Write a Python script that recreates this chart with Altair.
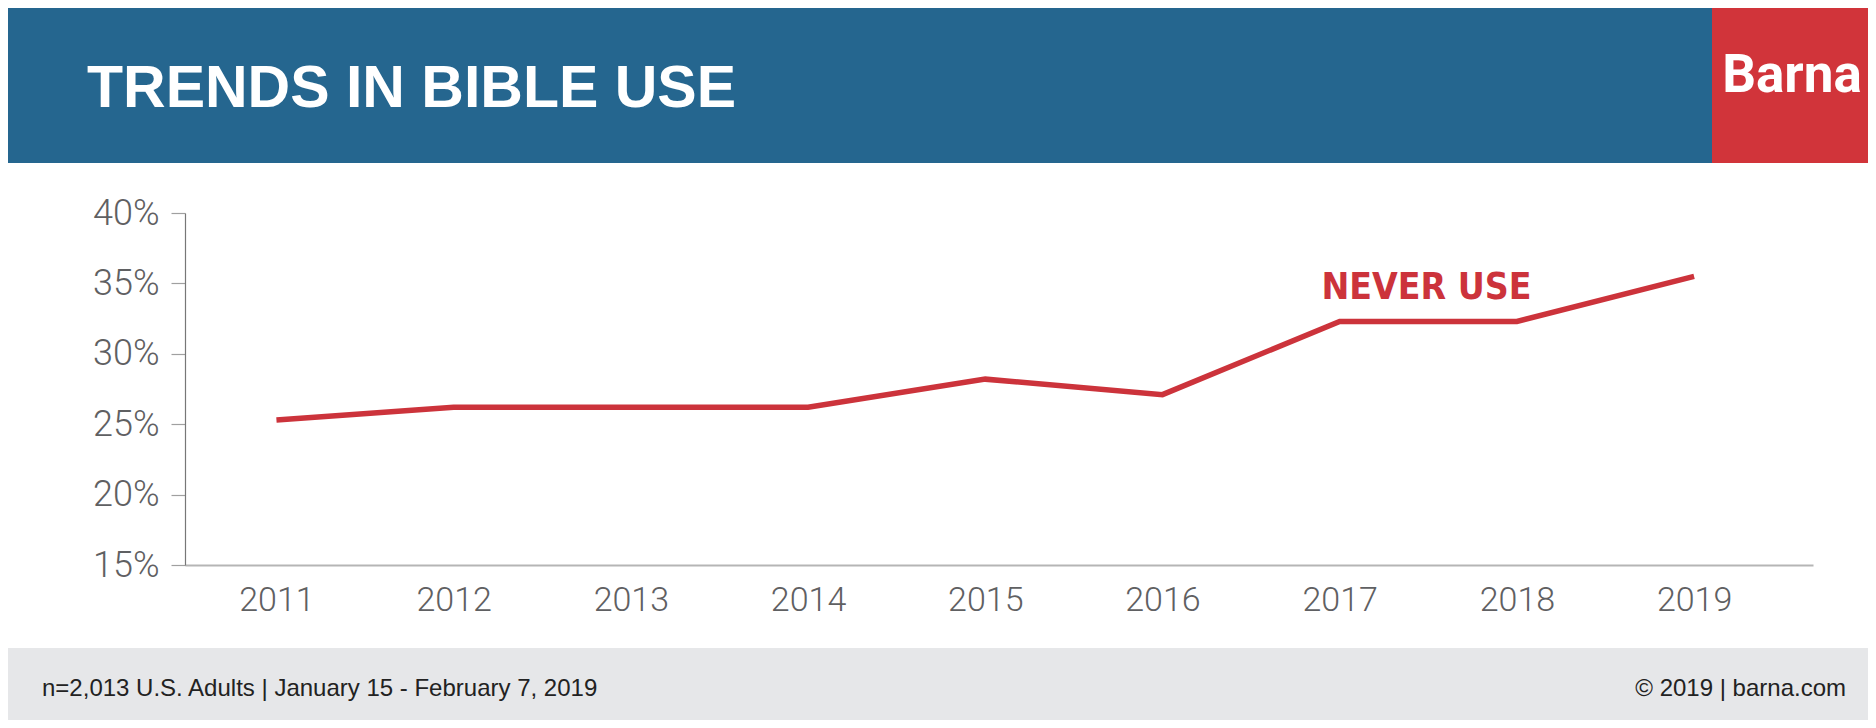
import altair as alt
import pandas as pd

years = [2011, 2012, 2013, 2014, 2015, 2016, 2017, 2018, 2019]
never_use = [25.3, 26.2, 26.2, 26.2, 28.2, 27.1, 32.3, 32.3, 35.5]
y_ticks = [15, 20, 25, 30, 35, 40]

title_text = "TRENDS IN BIBLE USE"
brand_text = "Barna"
series_label = "NEVER USE"
footer_left = "n=2,013 U.S. Adults | January 15 - February 7, 2019"
footer_right = "\u00a9 2019 | barna.com"

BLUE = "#25668f"
RED = "#d1343a"
LINE_RED = "#cc333b"
GRAY_BG = "#e6e7e9"
LABEL_GRAY = "#5f6062"

df = pd.DataFrame({"year": years, "value": never_use})

W, H = 1628, 352
PAD = {"left": 177, "top": 205, "right": 55, "bottom": 155}

base = alt.Chart(df)

x_enc = alt.X(
    "year:Q",
    scale=alt.Scale(domain=[2010.484, 2019.671], nice=False, zero=False),
    axis=alt.Axis(
        values=years, format="d", tickSize=0, labelPadding=18,
        labelFontSize=34, labelFont="Roboto", labelFontWeight=300,
        labelColor=LABEL_GRAY, domainColor="#b5b5b5", domainWidth=2,
        grid=False, title=None,
    ),
)
y_enc = alt.Y(
    "value:Q",
    scale=alt.Scale(domain=[15, 40], nice=False, zero=False),
    axis=alt.Axis(
        values=y_ticks, labelExpr="datum.value + '%'", tickSize=14,
        tickColor="#a0a0a0", tickWidth=1.2, labelPadding=12,
        labelFontSize=36, labelFont="Roboto", labelFontWeight=300,
        labelColor=LABEL_GRAY, domainColor="#777777", domainWidth=1.2,
        grid=False, title=None,
    ),
)

line = base.mark_line(color=LINE_RED, strokeWidth=5.5, strokeJoin="miter").encode(
    x=x_enc, y=y_enc
)

label = alt.Chart(pd.DataFrame({"t": [series_label]})).mark_text(
    font="DejaVu Sans Condensed, Roboto, sans-serif", fontWeight="bold", fontSize=37,
    color=LINE_RED, align="center", baseline="alphabetic",
).encode(x=alt.datum(2017.49), y=alt.datum(33.9), text="t:N")

one = pd.DataFrame({"a": [0]})

header = alt.Chart(one).mark_rect(color=BLUE).encode(
    x=alt.value(-177), x2=alt.value(1683), y=alt.value(-205), y2=alt.value(-50)
)
redbox = alt.Chart(one).mark_rect(color=RED).encode(
    x=alt.value(1527), x2=alt.value(1683), y=alt.value(-205), y2=alt.value(-50)
)
footer = alt.Chart(one).mark_rect(color=GRAY_BG).encode(
    x=alt.value(-177), x2=alt.value(1683), y=alt.value(435), y2=alt.value(507)
)

title = alt.Chart(pd.DataFrame({"t": [title_text]})).mark_text(
    font="Liberation Sans", fontWeight="bold", fontSize=59, color="white",
    align="left", baseline="alphabetic",
).encode(x=alt.value(-98), y=alt.value(-106), text="t:N")

brand = alt.Chart(pd.DataFrame({"t": [brand_text]})).mark_text(
    font="Roboto", fontWeight="bold", fontSize=53, color="white",
    align="center", baseline="alphabetic",
).encode(x=alt.value(1607), y=alt.value(-121), text="t:N")

fl = alt.Chart(pd.DataFrame({"t": [footer_left]})).mark_text(
    font="Liberation Sans", fontSize=24, color="#222222",
    align="left", baseline="alphabetic",
).encode(x=alt.value(-143), y=alt.value(483), text="t:N")

fr = alt.Chart(pd.DataFrame({"t": [footer_right]})).mark_text(
    font="Liberation Sans", fontSize=24, color="#222222",
    align="right", baseline="alphabetic",
).encode(x=alt.value(1661), y=alt.value(483), text="t:N")

chart = alt.layer(header, redbox, footer, line, label, title, brand, fl, fr).properties(
    width=W, height=H, padding=PAD,
    autosize=alt.AutoSizeParams(type="none"),
    background="white",
).configure_view(stroke=None)

chart.save("out.html", embed_options={"renderer": "svg", "actions": False})
